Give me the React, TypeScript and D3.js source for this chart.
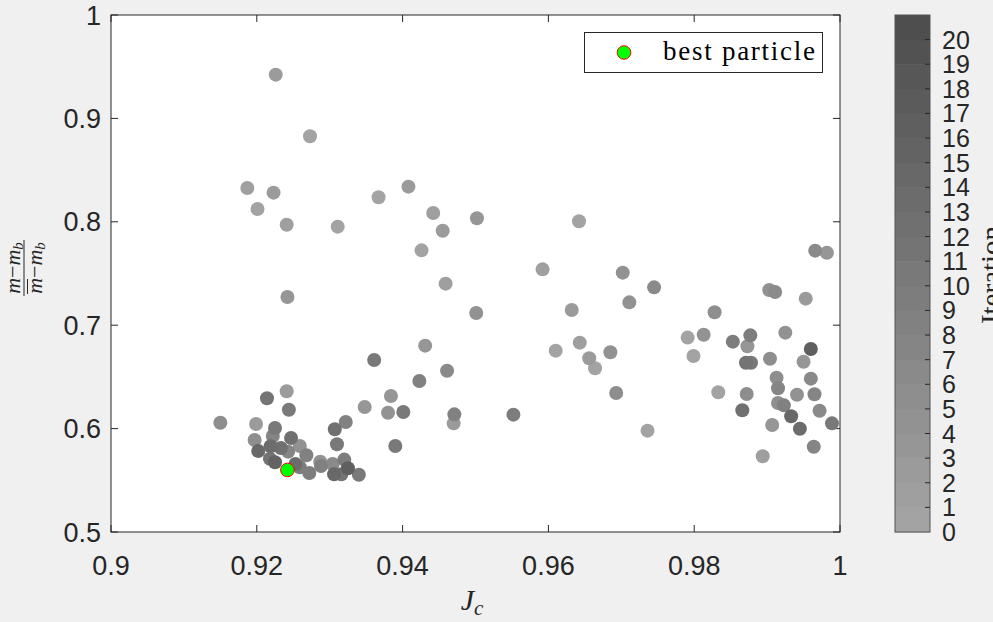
import { scaleLinear, interpolateRgb, range } from "d3"

// particle positions, grouped roughly by region
const jc = [
  0.9226, 0.9273, 0.9187, 0.9223, 0.9201, 0.9241, 0.9311, 0.9367, 0.9408, 0.9442, 0.9455, 0.9426, 0.9459, 0.9242,
  0.9502, 0.9642, 0.9592, 0.9702, 0.9745, 0.9711, 0.9501, 0.9632, 0.9828, 0.9791, 0.9813, 0.9799, 0.9643, 0.961,
  0.9656, 0.9664, 0.9685, 0.9461, 0.9693, 0.9833, 0.9471, 0.947, 0.9552, 0.9736,
  0.9431, 0.9361, 0.9423, 0.9384, 0.9348, 0.938, 0.9401, 0.9322, 0.9307, 0.931, 0.939,
  0.915, 0.9199, 0.9197, 0.9202, 0.9241, 0.9214, 0.9244, 0.9225, 0.9222, 0.9247, 0.9259, 0.9219, 0.9233, 0.9243,
  0.9268, 0.9218, 0.9225, 0.9253, 0.9259, 0.9272, 0.9287, 0.9288, 0.9304, 0.932, 0.9325, 0.9306, 0.9316, 0.934,
  0.9966, 0.9982, 0.9903, 0.9911, 0.9953, 0.9853, 0.9877, 0.9873, 0.9925, 0.996, 0.9871, 0.9878, 0.9904, 0.995,
  0.9913, 0.996, 0.9915, 0.9872, 0.9941, 0.9965, 0.9915, 0.9923, 0.9866, 0.9972, 0.9933, 0.9989, 0.9907, 0.9945,
  0.9964, 0.9894
]
const ratio = [
  0.9423, 0.8827, 0.8327, 0.8282, 0.8124, 0.7972, 0.7953, 0.8237, 0.834, 0.8085, 0.7914, 0.7724, 0.7402, 0.7273,
  0.8034, 0.8005, 0.754, 0.7508, 0.7366, 0.7221, 0.7118, 0.7147, 0.7125, 0.688, 0.6908, 0.6702, 0.6831, 0.6754,
  0.668, 0.6583, 0.6738, 0.656, 0.6344, 0.6351, 0.6138, 0.6051, 0.6135, 0.598,
  0.6802, 0.6663, 0.646, 0.6315, 0.6209, 0.6154, 0.6161, 0.6064, 0.5993, 0.5848, 0.5832,
  0.6057, 0.6044, 0.589, 0.5783, 0.6361, 0.6293, 0.6183, 0.6006, 0.5929, 0.5909, 0.5832, 0.5829, 0.5812, 0.5777,
  0.5742, 0.5709, 0.5674, 0.5658, 0.5626, 0.5571, 0.568, 0.5638, 0.5658, 0.57, 0.5616, 0.5558, 0.5558, 0.5554,
  0.7721, 0.7701, 0.734, 0.7321, 0.7257, 0.6841, 0.6902, 0.6796, 0.6928, 0.677, 0.6637, 0.6637, 0.6676, 0.6647,
  0.6492, 0.6483, 0.639, 0.6335, 0.6328, 0.6332, 0.6248, 0.6225, 0.6177, 0.6173, 0.6119, 0.6051, 0.6035, 0.5999,
  0.5825, 0.5732
]
const iteration = [
  2, 0, 1, 2, 0, 1, 0, 0, 2, 1, 2, 0, 1, 3,
  3, 0, 1, 4, 6, 4, 4, 2, 5, 0, 4, 0, 1, 0,
  2, 0, 4, 6, 5, 0, 8, 2, 9, 0,
  3, 10, 8, 3, 3, 4, 10, 8, 12, 10, 10,
  5, 2, 5, 14, 2, 11, 10, 10, 7, 12, 4, 13, 12, 7,
  8, 11, 15, 13, 9, 9, 4, 8, 6, 9, 16, 14, 11, 10,
  6, 3, 4, 6, 2, 9, 9, 3, 4, 16, 11, 10, 5, 3,
  5, 6, 7, 5, 4, 7, 5, 8, 12, 6, 14, 10, 3, 13,
  7, 1
]
const bestJc = [0.9242]
const bestRatio = [0.56]

const xTicks = [0.9, 0.92, 0.94, 0.96, 0.98, 1]
const xTickLabels = ["0.9", "0.92", "0.94", "0.96", "0.98", "1"]
const yTicks = [0.5, 0.6, 0.7, 0.8, 0.9, 1]
const yTickLabels = ["0.5", "0.6", "0.7", "0.8", "0.9", "1"]
const cbTicks = range(0, 21)

const W = 993
const H = 622
const margin = { top: 15, right: 153, bottom: 90, left: 111 }
const axisColor = "#262626"
const sans = "'Liberation Sans', Arial, sans-serif"
const serif = "'Liberation Serif', 'Times New Roman', serif"

const gray = interpolateRgb("#a3a3a3", "#4a4a4a")
const colorOf = (it: number) => gray(it / 21)

function Scatter({ x, y }: { x: any; y: any }) {
  const order = range(jc.length).sort((a, b) => iteration[a] - iteration[b])
  return (
    <g>
      {order.map((i) => (
        <circle key={`p-${i}`} cx={x(jc[i])} cy={y(ratio[i])} r={7} fill={colorOf(iteration[i])} />
      ))}
      {bestJc.map((v, i) => (
        <circle key={`best-${i}`} cx={x(v)} cy={y(bestRatio[i])} r={6.8} fill="#00ff00" stroke="#ff0000" strokeWidth={1} />
      ))}
    </g>
  )
}

function Axes({ x, y, x0, x1, y0, y1 }: any) {
  return (
    <g>
      <rect x={x0} y={y1} width={x1 - x0} height={y0 - y1} fill="white" />
      {xTicks.map((t, i) => (
        <g key={`xt-${i}`}>
          <line x1={x(t)} x2={x(t)} y1={y0} y2={y0 - 7} stroke={axisColor} />
          <line x1={x(t)} x2={x(t)} y1={y1} y2={y1 + 7} stroke={axisColor} />
          <text x={x(t)} y={y0 + 43} textAnchor="middle" fontSize={27} fontFamily={sans} fill={axisColor}>
            {xTickLabels[i]}
          </text>
        </g>
      ))}
      {yTicks.map((t, i) => (
        <g key={`yt-${i}`}>
          <line x1={x0} x2={x0 + 7} y1={y(t)} y2={y(t)} stroke={axisColor} />
          <line x1={x1} x2={x1 - 7} y1={y(t)} y2={y(t)} stroke={axisColor} />
          <text x={x0 - 10} y={y(t) + 9.5} textAnchor="end" fontSize={27} fontFamily={sans} fill={axisColor}>
            {yTickLabels[i]}
          </text>
        </g>
      ))}
    </g>
  )
}

function Colorbar({ top, bottom }: { top: number; bottom: number }) {
  const cx0 = 895
  const cx1 = 930
  const c = scaleLinear().domain([0, 21]).range([bottom, top])
  return (
    <g>
      {range(0, 21).map((j) => (
        <rect key={`band-${j}`} x={cx0} y={c(j + 1)} width={cx1 - cx0} height={c(j) - c(j + 1) + 0.5} fill={colorOf(j)} />
      ))}
      <rect x={cx0} y={top} width={cx1 - cx0} height={bottom - top} fill="none" stroke="#555" strokeWidth={1} />
      {cbTicks.map((t) => (
        <g key={`cb-${t}`}>
          {t > 0 && <line x1={cx1} x2={cx1 - 5} y1={c(t)} y2={c(t)} stroke={axisColor} />}
          <text x={942} y={c(t) + 9} fontSize={25} fontFamily={sans} fill={axisColor}>
            {t}
          </text>
        </g>
      ))}
      <text transform="translate(1001, 275) rotate(-90)" textAnchor="middle" fontSize={29} fontFamily={serif} fill={axisColor}>
        Iteration
      </text>
    </g>
  )
}

function Legend() {
  return (
    <g>
      <rect x={584.5} y={32.5} width={238} height={40} fill="white" stroke="#262626" strokeWidth={1} />
      <circle cx={624} cy={52.5} r={6.8} fill="#00ff00" stroke="#ff0000" strokeWidth={1} />
      <text x={663} y={60} fontSize={27} fontFamily={serif} fill="#000" textLength={152} lengthAdjust="spacing">
        best particle
      </text>
    </g>
  )
}

function Fraction() {
  // (m - m_b) / (m̄ - m_b), drawn in rotated local coordinates
  const part = (yy: number) => (
    <text x={0} y={yy} textAnchor="middle" fontSize={22}>
      <tspan fontStyle="italic">m</tspan>
      <tspan>−</tspan>
      <tspan fontStyle="italic">m</tspan>
      <tspan fontStyle="italic" fontSize={15} dy={3}>b</tspan>
    </text>
  )
  return (
    <g transform="translate(24, 268) rotate(-90)">
      {part(-4)}
      <line x1={-28} x2={28} y1={0} y2={0} stroke="#262626" strokeWidth={1} />
      <line x1={-26} x2={-11} y1={3.5} y2={3.5} stroke="#262626" strokeWidth={1} />
      {part(18)}
    </g>
  )
}

function Labels() {
  return (
    <g fill="#262626" fontFamily={serif}>
      <text x={472} y={610} textAnchor="middle" fontSize={30}>
        <tspan fontStyle="italic">J</tspan>
        <tspan fontStyle="italic" fontSize={21} dy={5}>c</tspan>
      </text>
      <Fraction />
    </g>
  )
}

export default function App() {
  const x0 = margin.left
  const x1 = W - margin.right
  const y0 = H - margin.bottom
  const y1 = margin.top
  const x = scaleLinear().domain([0.9, 1]).range([x0, x1])
  const y = scaleLinear().domain([0.5, 1]).range([y0, y1])

  return (
    <div style={{ position: "absolute", left: 0, top: 0, width: W, height: H, background: "#f0f0f0" }}>
      <svg width={W} height={H} style={{ display: "block" }}>
        <Axes x={x} y={y} x0={x0} x1={x1} y0={y0} y1={y1} />
        <Scatter x={x} y={y} />
        <rect x={x0} y={y1} width={x1 - x0} height={y0 - y1} fill="none" stroke={axisColor} strokeWidth={1} />
        <Legend />
        <Colorbar top={y1} bottom={y0} />
        <Labels />
      </svg>
    </div>
  )
}
